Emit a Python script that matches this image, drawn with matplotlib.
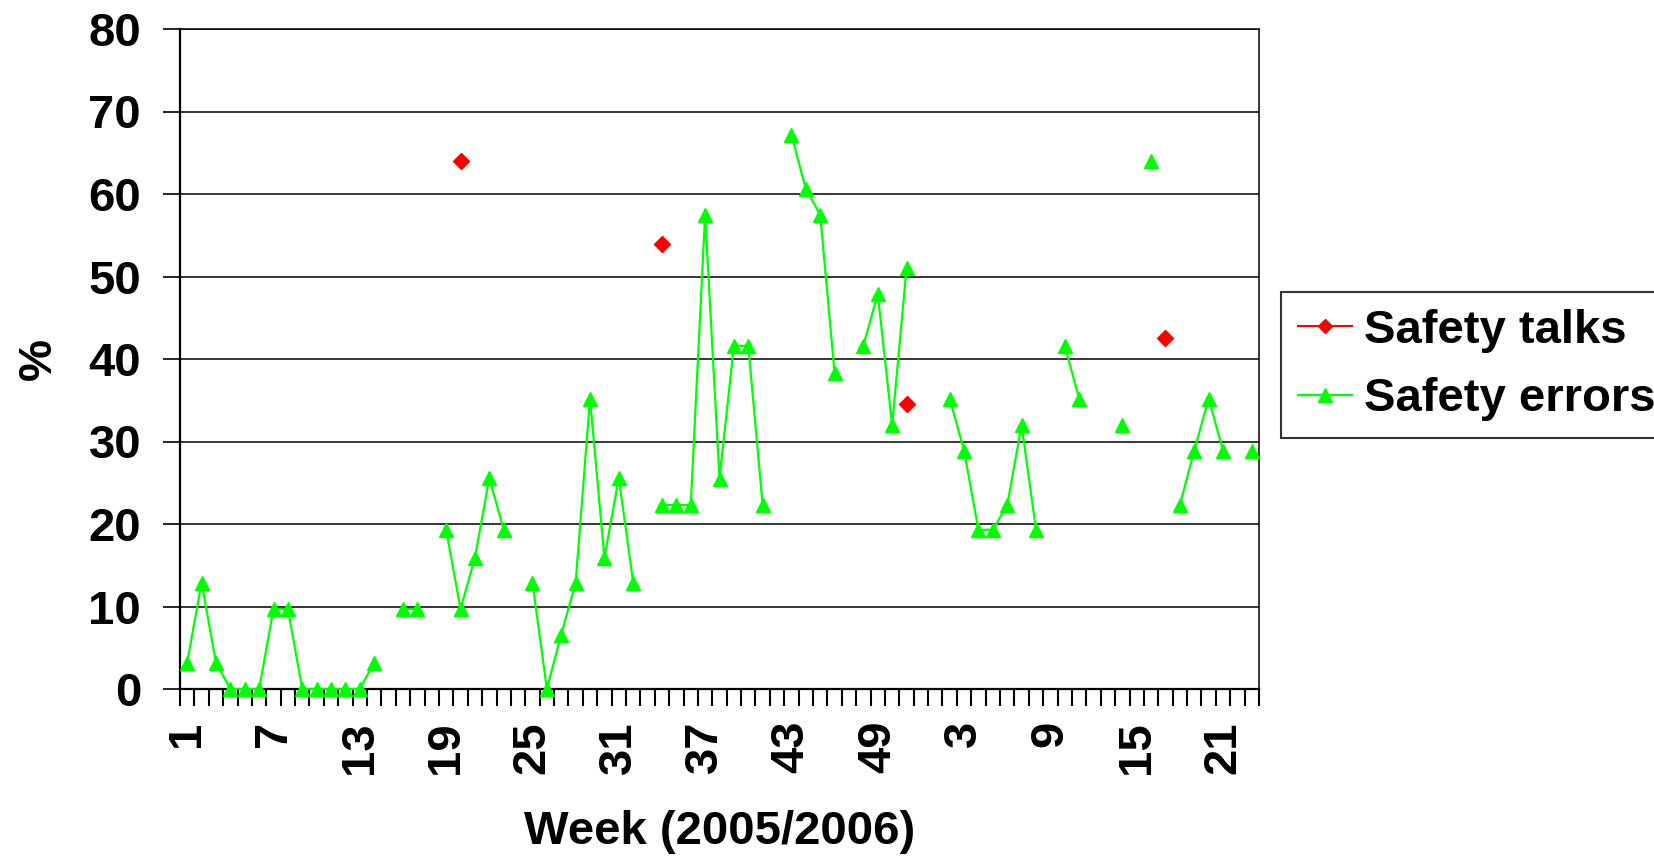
import numpy as np
import matplotlib
matplotlib.use("Agg")
import matplotlib.pyplot as plt
from matplotlib.ticker import FixedLocator, NullFormatter

nan = np.nan

weeks_2005 = list(range(1, 53))
weeks_2006 = list(range(1, 24))
week_labels = [str(w) for w in weeks_2005 + weeks_2006]

safety_errors = [
    3.2, 12.9, 3.2, 0, 0, 0, 9.7, 9.7, 0, 0,
    0, 0, 0, 3.2, nan, 9.7, 9.7, nan, 19.3, 9.7,
    15.9, 25.6, 19.3, nan, 12.9, 0, 6.6, 12.9, 35.2, 15.9,
    25.6, 12.9, nan, 22.3, 22.3, 22.3, 57.5, 25.5, 41.6, 41.6,
    22.3, nan, 67.2, 60.6, 57.5, 38.3, nan, 41.6, 47.9, 32.0,
    51.0, nan, nan, 35.2, 28.9, 19.3, 19.3, 22.3, 32.0, 19.3,
    nan, 41.6, 35.2, nan, nan, 32.0, nan, 64.0, nan, 22.3,
    28.9, 35.2, 28.9, nan, 28.9,
]

safety_talks = [nan] * 75
talk_weeks_idx = [20, 34, 51, 69]
talk_values = [64.0, 54.0, 34.6, 42.6]
for i, v in zip(talk_weeks_idx, talk_values):
    safety_talks[i - 1] = v

y_ticks = [0, 10, 20, 30, 40, 50, 60, 70, 80]

plt.rcParams['font.family'] = ['Liberation Sans', 'DejaVu Sans']
plt.rcParams['font.weight'] = 'bold'

fig = plt.figure(figsize=(16.54, 8.56), dpi=100)
ax = fig.add_axes([180/1654, 1 - 689/856, (1259-180)/1654, (689-29)/856])

x = np.arange(len(week_labels))
FS = 34

ax.plot(x, safety_talks, color='#ff0000', marker='D', markersize=8, lw=1.5,
        label='Safety talks', clip_on=False, zorder=4)
ax.plot(x, safety_errors, color='#00ff00', marker='^', markersize=10, lw=1.6,
        label='Safety errors', clip_on=False, zorder=3)

ax.set_xlim(-0.5, len(week_labels) - 0.5)
ax.set_ylim(0, 80)
ax.set_yticks(y_ticks)
ax.set_yticklabels([str(t) for t in y_ticks], fontsize=FS, fontweight='bold')
ax.yaxis.grid(True, color='black', lw=1.1)
ax.set_axisbelow(True)

lab_pos = list(range(0, len(week_labels), 6))
ax.set_xticks(lab_pos)
ax.set_xticklabels([week_labels[i] for i in lab_pos], rotation=90,
                   fontsize=FS, fontweight='bold')
ax.xaxis.set_minor_locator(FixedLocator(np.arange(-0.5, len(week_labels), 1.0)))
ax.xaxis.set_minor_formatter(NullFormatter())
ax.tick_params(axis='x', which='major', length=0, pad=23)
ax.tick_params(axis='x', which='minor', length=12, width=1.5, direction='out')
ax.tick_params(axis='y', which='major', length=12, width=1.2, direction='out', pad=16)

for s in ['left', 'bottom']:
    ax.spines[s].set_linewidth(1.6)
for s in ['top', 'right']:
    ax.spines[s].set_linewidth(1.1)

ax.set_xlabel('Week (2005/2006)', fontsize=FS, fontweight='bold', labelpad=26)
ax.set_ylabel('%', fontsize=FS, fontweight='bold', labelpad=20)

leg = fig.legend(loc='upper left', bbox_to_anchor=(1281/1654, 1 - 292/856),
                 frameon=True, fancybox=False, borderaxespad=0,
                 borderpad=0.35, handlelength=1.15, handletextpad=0.25,
                 labelspacing=0.52, prop={'weight': 'bold', 'size': FS})
leg.get_frame().set_edgecolor('black')
leg.get_frame().set_linewidth(1.5)
for h in leg.legend_handles:
    if h.get_marker() == 'D':
        h.set_markersize(7)

fig.savefig('out.png', dpi=100)
